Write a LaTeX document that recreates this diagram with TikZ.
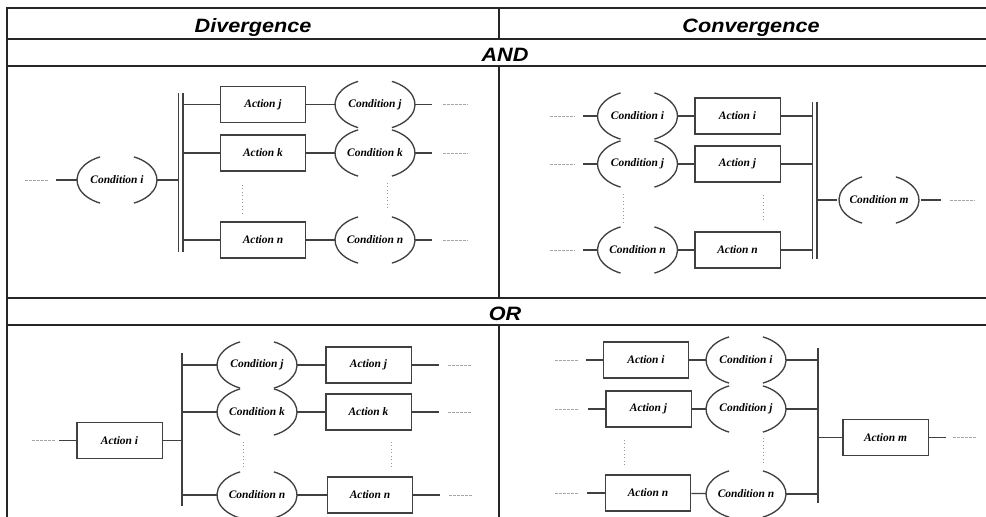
\documentclass[tikz,border=0pt]{standalone}
\usepackage{fontspec}
\setmainfont{Liberation Serif}
\newfontfamily\arialfont{Liberation Sans}
\usetikzlibrary{shapes.geometric}
\newcommand{\headfont}{\arialfont\fontsize{14.5}{17}\selectfont\bfseries\itshape}
\newcommand{\boxfont}{\fontsize{8.6}{10}\selectfont\bfseries\itshape}
\newcommand{\wide}[1]{\scalebox{1.12}[1]{#1}}

\begin{document}
\begin{tikzpicture}[x=0.75pt,y=-0.75pt,
  grid/.style={line width=1.2pt,black!85},
  wire/.style={line width=1pt,black!75},
  lead/.style={line width=0.5pt,gray!70,dash pattern=on 2pt off 1pt},
  dots/.style={line width=0.6pt,gray!80,dotted},
  hdr/.style={anchor=base,font=\headfont},
  act/.style={draw=black!75,line width=1pt,minimum width=64pt,minimum height=27pt,inner sep=0pt,font=\boxfont},
  cnd/.style={ellipse,minimum width=60pt,minimum height=38pt,inner sep=0pt,font=\boxfont}]
\clip (0,0) rectangle (986,517);

\draw[grid] (7,530) -- (7,8) -- (1003,8) -- (1003,530);
\draw[grid] (7,39) -- (1003,39);
\draw[grid] (7,66) -- (1003,66);
\draw[grid] (7,298) -- (1003,298);
\draw[grid] (7,325) -- (1003,325);
\draw[grid] (499,8) -- (499,39);
\draw[grid] (499,66) -- (499,298);
\draw[grid] (499,325) -- (499,530);
\node[hdr] (dvg) at (253,33) {\wide{Divergence}};
\node[hdr] (cvg) at (751,33) {\wide{Convergence}};
\node[hdr] (and) at (505,62) {\wide{AND}};
\node[hdr] (or) at (505,320) {\wide{OR}};

% AND divergence
\node[cnd] (c1i) at (117,180) {Condition i};
\node[act] (a1j) at (263,104.5) {Action j};
\node[act] (a1k) at (263,153) {Action k};
\node[act] (a1n) at (263,240) {Action n};
\node[cnd] (c1j) at (375,104.5) {Condition j};
\node[cnd] (c1k) at (375,153) {Condition k};
\node[cnd] (c1n) at (375,240) {Condition n};
\coordinate (b1) at (180.5,93);
\coordinate (b1e) at (180.5,252);
\coordinate (b1l) at (178,0);
\coordinate (b1r) at (183,0);
\coordinate (i1) at (56,180);
\coordinate (o1j) at (432,104.5);
\coordinate (o1k) at (432,153);
\coordinate (o1n) at (432,240);
\draw[wire,double,double distance=2.5pt] (b1) -- (b1e);
\draw[lead] (25,180) -- (48,180);
\draw[wire] (i1) -- (c1i);
\draw[wire] (c1i) -- (c1i -| b1l);
\draw[wire] (b1r |- a1j) -- (a1j);
\draw[wire] (b1r |- a1k) -- (a1k);
\draw[wire] (b1r |- a1n) -- (a1n);
\draw[wire] (a1j) -- (c1j);
\draw[wire] (a1k) -- (c1k);
\draw[wire] (a1n) -- (c1n);
\draw[wire] (c1j) -- (o1j);
\draw[wire] (c1k) -- (o1k);
\draw[wire] (c1n) -- (o1n);
\draw[lead] (443,104.5) -- (468,104.5);
\draw[lead] (443,153) -- (468,153);
\draw[lead] (443,240) -- (468,240);
\draw[dots] (242,185) -- (242,213);
\draw[dots] (387,183) -- (387,208);

% AND convergence
\node[cnd] (c2i) at (637.5,116) {Condition i};
\node[cnd] (c2j) at (637.5,164) {Condition j};
\node[cnd] (c2n) at (637.5,250) {Condition n};
\node[act] (a2i) at (737.5,116) {Action i};
\node[act] (a2j) at (737.5,164) {Action j};
\node[act] (a2n) at (737.5,250) {Action n};
\node[cnd] (c2m) at (879,200) {Condition m};
\coordinate (b2) at (814.5,102);
\coordinate (b2e) at (814.5,259);
\coordinate (b2l) at (812,0);
\coordinate (b2r) at (817,0);
\coordinate (i2i) at (583,116);
\coordinate (i2j) at (583,164);
\coordinate (i2n) at (583,250);
\coordinate (o2) at (941,200);
\draw[wire,double,double distance=2.5pt] (b2) -- (b2e);
\draw[lead] (550,116) -- (575,116);
\draw[lead] (550,164) -- (575,164);
\draw[lead] (550,250) -- (575,250);
\draw[wire] (i2i) -- (c2i);
\draw[wire] (i2j) -- (c2j);
\draw[wire] (i2n) -- (c2n);
\draw[wire] (c2i) -- (a2i);
\draw[wire] (c2j) -- (a2j);
\draw[wire] (c2n) -- (a2n);
\draw[wire] (a2i) -- (a2i -| b2l);
\draw[wire] (a2j) -- (a2j -| b2l);
\draw[wire] (a2n) -- (a2n -| b2l);
\draw[wire] (b2r |- c2m) -- (c2m);
\draw[wire] (c2m) -- (o2);
\draw[lead] (950,200) -- (975,200);
\draw[dots] (623,194) -- (623,222);
\draw[dots] (763,195) -- (763,222);

% OR divergence
\node[act] (a3i) at (119.5,440.5) {Action i};
\node[cnd] (c3j) at (257,365) {Condition j};
\node[cnd] (c3k) at (257,412) {Condition k};
\node[cnd] (c3n) at (257,495) {Condition n};
\node[act] (a3j) at (368.5,365) {Action j};
\node[act] (a3k) at (368.5,412) {Action k};
\node[act] (a3n) at (370,495) {Action n};
\coordinate (b3) at (182,353);
\coordinate (b3e) at (182,506);
\coordinate (i3) at (59,440.5);
\coordinate (o3j) at (439,365);
\coordinate (o3k) at (439,412);
\coordinate (o3n) at (440,495);
\draw[wire] (b3) -- (b3e);
\draw[lead] (32,440.5) -- (55,440.5);
\draw[wire] (i3) -- (a3i);
\draw[wire] (a3i) -- (a3i -| b3);
\draw[wire] (b3 |- c3j) -- (c3j);
\draw[wire] (b3 |- c3k) -- (c3k);
\draw[wire] (b3 |- c3n) -- (c3n);
\draw[wire] (c3j) -- (a3j);
\draw[wire] (c3k) -- (a3k);
\draw[wire] (c3n) -- (a3n);
\draw[wire] (a3j) -- (o3j);
\draw[wire] (a3k) -- (o3k);
\draw[wire] (a3n) -- (o3n);
\draw[lead] (448,365) -- (472,365);
\draw[lead] (448,412) -- (472,412);
\draw[lead] (449,495) -- (472,495);
\draw[dots] (243,442) -- (243,467);
\draw[dots] (391,442) -- (391,468);

% OR convergence
\node[act] (a4i) at (646,360) {Action i};
\node[act] (a4j) at (648.5,409) {Action j};
\node[act] (a4n) at (648,493) {Action n};
\node[cnd] (c4i) at (746,360) {Condition i};
\node[cnd] (c4j) at (746,409) {Condition j};
\node[cnd] (c4n) at (746,494) {Condition n};
\node[act] (a4m) at (885.5,437.5) {Action m};
\coordinate (b4) at (818,348);
\coordinate (b4e) at (818,503);
\coordinate (i4i) at (586,360);
\coordinate (i4j) at (588,409);
\coordinate (i4n) at (587,493);
\coordinate (o4) at (946,437.5);
\draw[wire] (b4) -- (b4e);
\draw[lead] (555,360) -- (578,360);
\draw[lead] (555,409) -- (578,409);
\draw[lead] (555,493) -- (578,493);
\draw[wire] (i4i) -- (a4i);
\draw[wire] (i4j) -- (a4j);
\draw[wire] (i4n) -- (a4n);
\draw[wire] (a4i) -- (c4i);
\draw[wire] (a4j) -- (c4j);
\draw[wire] (a4n) -- (c4n);
\draw[wire] (c4i) -- (c4i -| b4);
\draw[wire] (c4j) -- (c4j -| b4);
\draw[wire] (c4n) -- (c4n -| b4);
\draw[wire] (b4 |- a4m) -- (a4m);
\draw[wire] (a4m) -- (o4);
\draw[lead] (953,437.5) -- (977,437.5);
\draw[dots] (624,440) -- (624,467);
\draw[dots] (763,438) -- (763,465);

\foreach \c in {c1i,c1j,c1k,c1n,c2i,c2j,c2n,c2m,c3j,c3k,c3n,c4i,c4j,c4n} {
  \draw[wire] ([shift={(115:40 and 25.5)}]\c.center) arc[start angle=115,end angle=245,x radius=40,y radius=25.5];
  \draw[wire] ([shift={(-65:40 and 25.5)}]\c.center) arc[start angle=-65,end angle=65,x radius=40,y radius=25.5];
}
\end{tikzpicture}
\end{document}
